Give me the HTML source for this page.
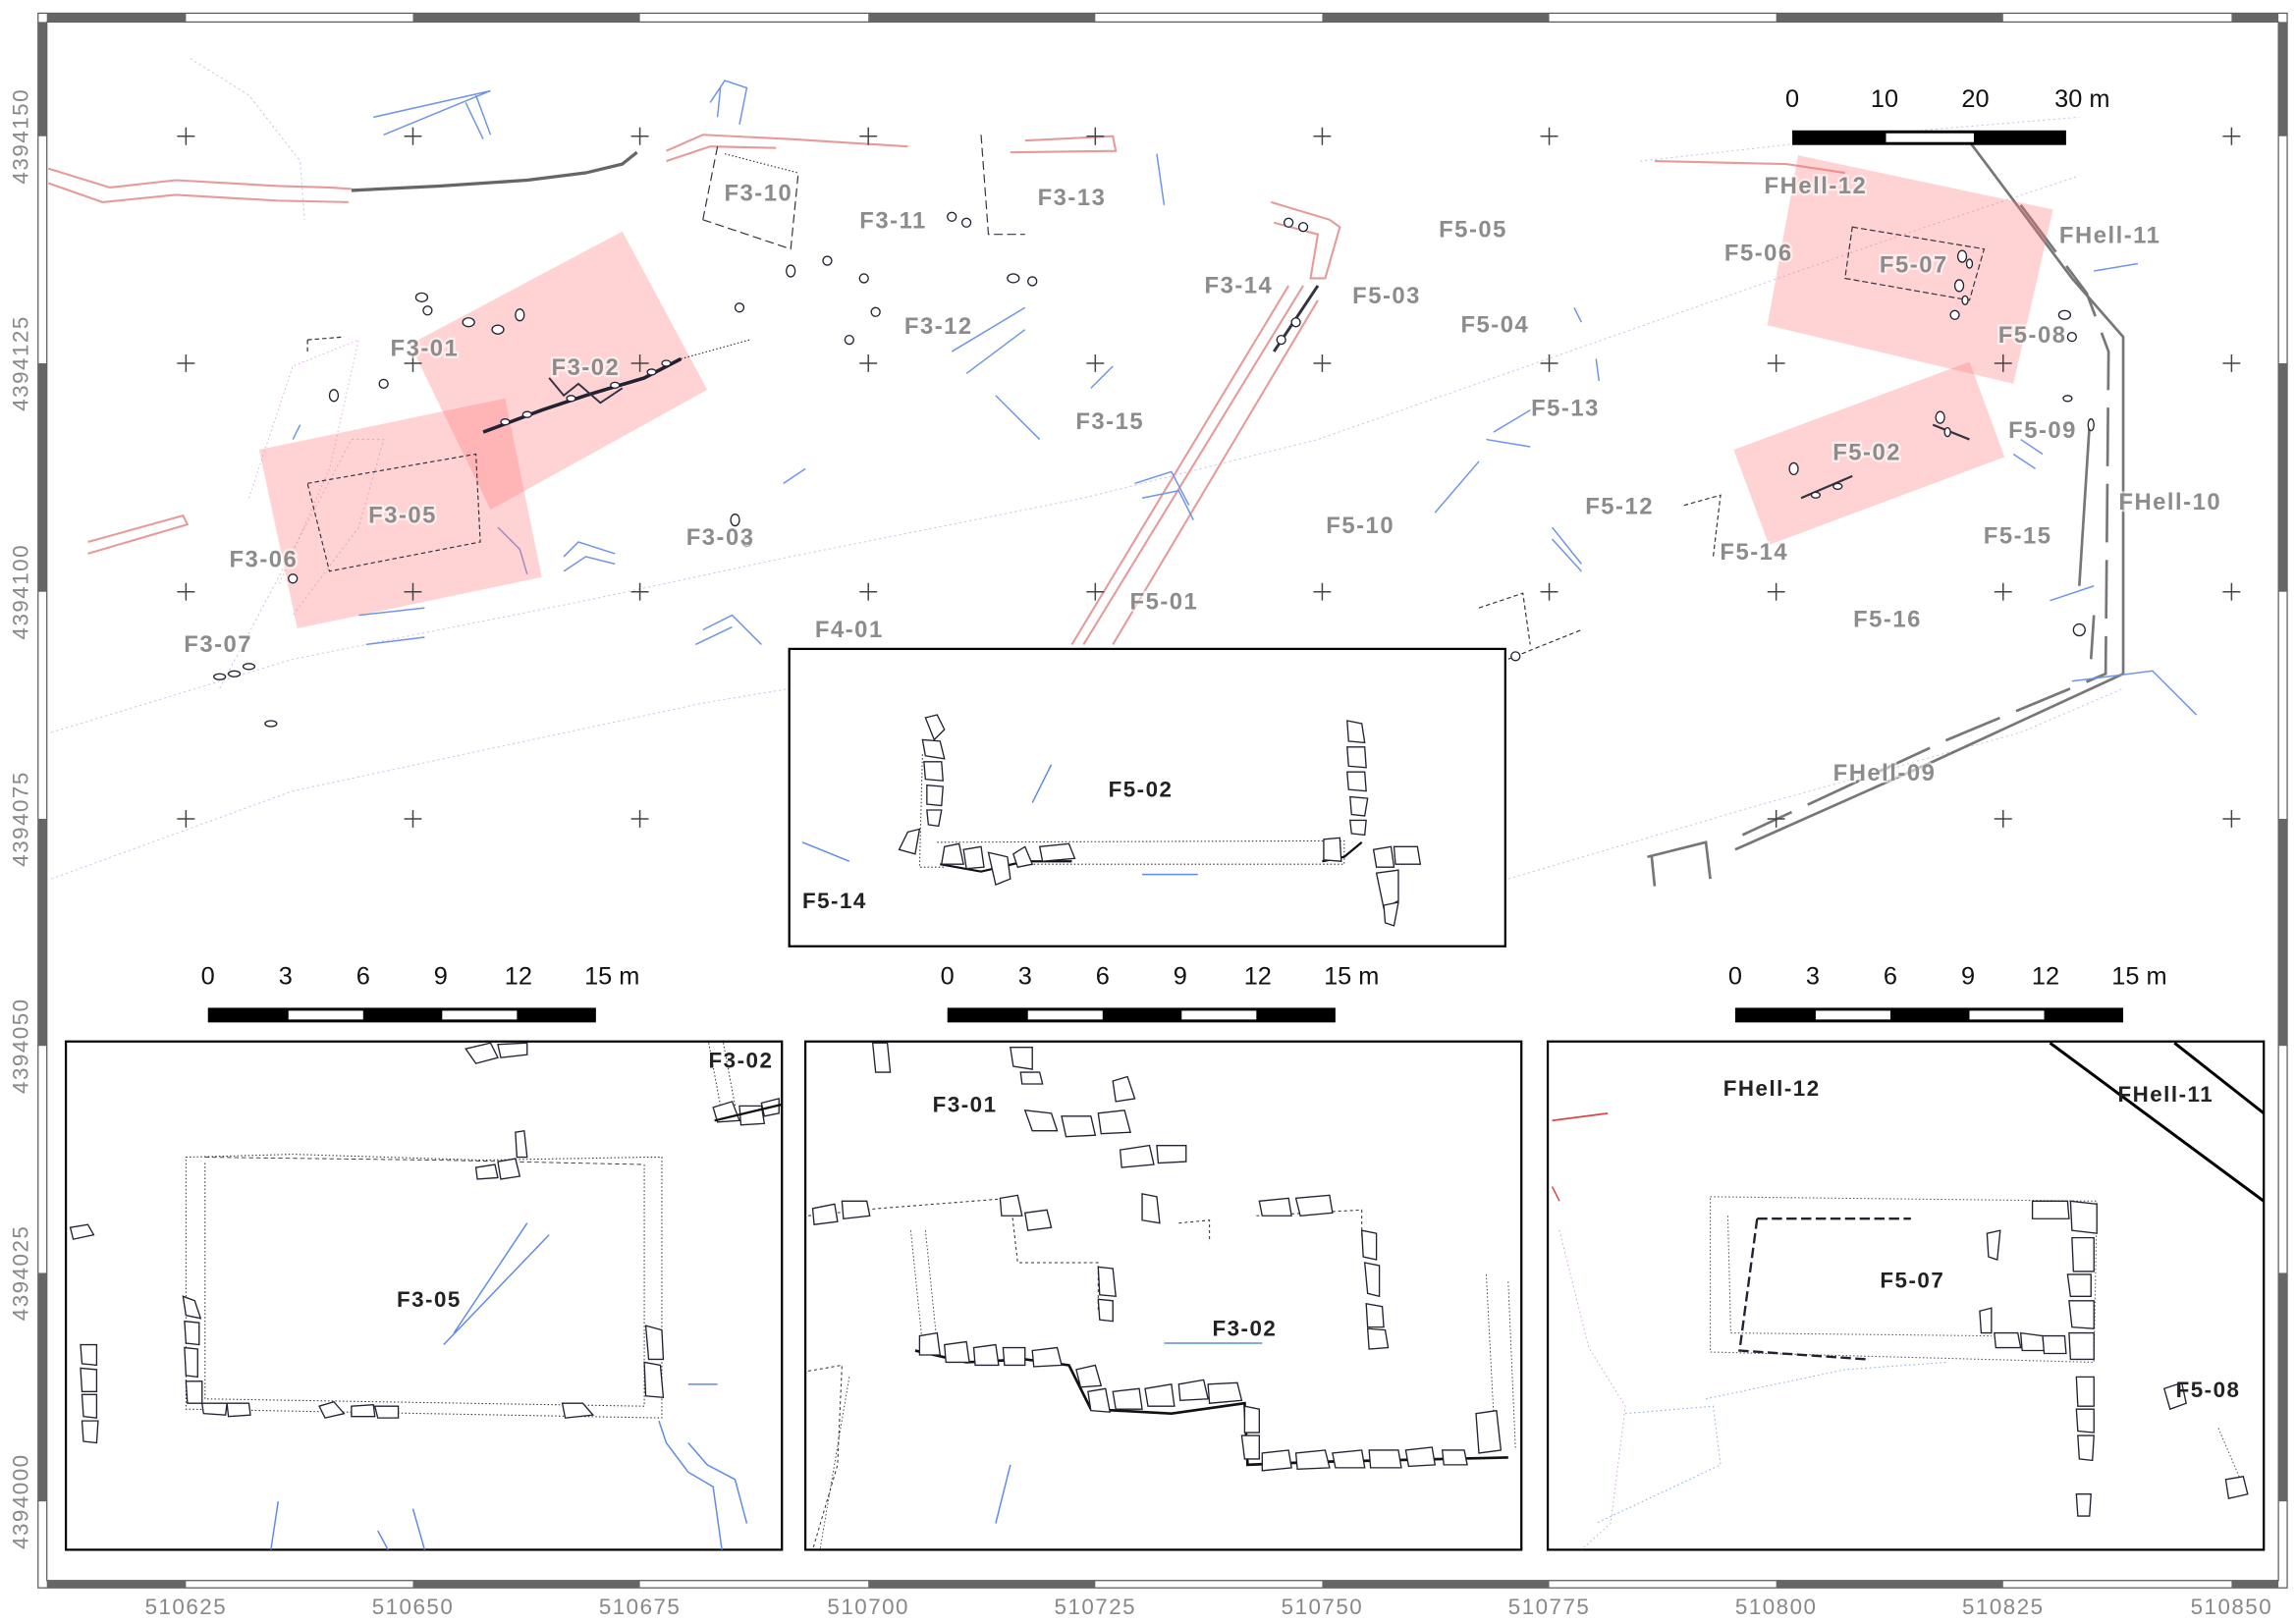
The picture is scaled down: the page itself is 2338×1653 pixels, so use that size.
<!DOCTYPE html>
<html><head><meta charset="utf-8"><style>
html,body{margin:0;padding:0;background:#fff;}
svg{display:block;}
.lab{font-family:"Liberation Sans",sans-serif;font-weight:bold;font-size:16px;fill:#8c8c8c;letter-spacing:1px;paint-order:stroke;stroke:#fff;stroke-opacity:0.6;stroke-width:3px;}
.ilab{font-family:"Liberation Sans",sans-serif;font-weight:bold;font-size:15px;fill:#222;letter-spacing:1px;}
.ax{font-family:"Liberation Sans",sans-serif;font-size:15px;fill:#888;letter-spacing:1px;}
.sc{font-family:"Liberation Sans",sans-serif;font-size:17px;fill:#111;}
.st{fill:#fff;stroke:#223;stroke-width:0.9;}
</style></head><body>
<svg width="2338" height="1653" viewBox="0 0 1568 1108" preserveAspectRatio="none" xmlns="http://www.w3.org/2000/svg">
<rect width="1568" height="1108" fill="#fff"/>
<g stroke="#555" stroke-width="0.8">
<rect x="26" y="9" width="1536" height="1075" fill="none"/>
<rect x="32" y="15" width="1524" height="1064" fill="none"/>
</g>
<g fill="#666">
<rect x="32" y="9" width="95" height="6"/><rect x="282" y="9" width="155" height="6"/><rect x="593" y="9" width="155" height="6"/><rect x="903" y="9" width="155" height="6"/><rect x="1213" y="9" width="155" height="6"/><rect x="1524" y="9" width="32" height="6"/>
<rect x="32" y="1079" width="95" height="5"/><rect x="282" y="1079" width="155" height="5"/><rect x="593" y="1079" width="155" height="5"/><rect x="903" y="1079" width="155" height="5"/><rect x="1213" y="1079" width="155" height="5"/><rect x="1524" y="1079" width="32" height="5"/>
<rect x="26" y="15" width="6" height="78"/><rect x="26" y="248" width="6" height="156"/><rect x="26" y="559" width="6" height="155"/><rect x="26" y="869" width="6" height="156"/>
<rect x="1556" y="15" width="6" height="78"/><rect x="1556" y="248" width="6" height="156"/><rect x="1556" y="559" width="6" height="155"/><rect x="1556" y="869" width="6" height="156"/>
</g>
<g class="ax" text-anchor="middle">
<text x="127" y="1102">510625</text><text x="282" y="1102">510650</text><text x="437" y="1102">510675</text><text x="593" y="1102">510700</text><text x="748" y="1102">510725</text><text x="903" y="1102">510750</text><text x="1058" y="1102">510775</text><text x="1213" y="1102">510800</text><text x="1368" y="1102">510825</text><text x="1524" y="1102">510850</text>
<text transform="translate(19,93) rotate(-90)">4394150</text>
<text transform="translate(19,248) rotate(-90)">4394125</text>
<text transform="translate(19,404) rotate(-90)">4394100</text>
<text transform="translate(19,559) rotate(-90)">4394075</text>
<text transform="translate(19,714) rotate(-90)">4394050</text>
<text transform="translate(19,869) rotate(-90)">4394025</text>
<text transform="translate(19,1025) rotate(-90)">4394000</text>
</g>
<g>
<g fill="none" stroke="#c8c8ee" stroke-width="0.7" stroke-dasharray="1.5,2">
<path d="M130,40 L170,65 L205,110 L208,150"/><path d="M35,500 L200,450 L400,410 L540,380 L740,340 L900,300 L1100,230 L1300,160 L1420,120"/>
<path d="M150,470 L240,300 L262,300 L245,360 L200,420"/><path d="M35,600 L200,540 L480,480 L540,470"/>
<path d="M1030,600 L1200,550 L1380,500 L1450,470"/><path d="M1120,110 L1300,90 L1420,80"/>
</g>
<g fill="none" stroke="#e0a0e0" stroke-width="0.6" stroke-dasharray="1,2">
<path d="M170,340 L200,250 L245,232 L225,320 L190,400"/>
</g>
<g fill="none" stroke="#e89a9a" stroke-width="1.4">
<path d="M33,115 L75,128 L120,123 L190,127 L225,128 L240,129"/><path d="M33,125 L70,138 L120,133 L190,137 L238,138"/>
<path d="M455,103 L480,92 L540,95 L620,100"/><path d="M455,110 L485,100 L530,101"/>
<path d="M700,96 L760,93 L762,103 L690,104"/>
<path d="M868,138 L908,150 L915,155 L905,190 L895,190 L900,160 L870,152"/>
<path d="M890,195 L740,440"/><path d="M880,195 L732,440"/><path d="M760,440 L900,205"/>
<path d="M60,370 L125,352 L128,358 L60,378"/>
<path d="M1130,110 L1220,112 L1260,118"/>
</g>
<path d="M240,130 L300,127 L360,123 L400,118 L425,112 L435,104" fill="none" stroke="#666" stroke-width="2.2"/>
<g fill="none" stroke="#777" stroke-width="1.8">
<path d="M1340,90 L1415,190 L1450,230 L1450,460 L1320,520 L1185,580"/>
<path d="M1380,140 L1425,200 L1440,240 L1438,460 L1330,505 L1190,570" stroke-dasharray="40,12"/>
<path d="M1427,290 L1420,400 M1430,420 L1428,450"/>
<path d="M1125,585 L1165,575 L1168,600 M1128,585 L1130,605"/>
</g>
<g fill="none" stroke="#6f95e8" stroke-width="1">
<path d="M255,80 L335,62 M262,92 L335,62 M318,70 L330,95 M325,65 L335,92"/>
<path d="M485,70 L495,55 L510,60 L505,85 M490,80 L492,60"/>
<path d="M790,105 L795,140"/><path d="M650,240 L700,210 M660,255 L700,225"/>
<path d="M760,250 L745,265 M680,270 L700,290 M690,280 L710,300"/>
<path d="M775,330 L800,322 L812,345 M780,340 L805,335 L815,355"/>
<path d="M980,350 L1010,315"/><path d="M1020,295 L1045,280 M1015,300 L1045,305"/>
<path d="M1090,245 L1092,260 M1075,210 L1080,220"/>
<path d="M1060,360 L1080,385 M1060,368 L1080,390"/>
<path d="M385,380 L395,370 L420,378 M385,390 L400,380 L420,385"/>
<path d="M340,360 L355,375 L360,392"/>
<path d="M250,440 L290,435 M245,420 L290,415"/>
<path d="M480,430 L500,420 L520,440 M475,440 L500,428"/>
<path d="M1415,465 L1470,458 L1500,488"/><path d="M1380,300 L1395,310 M1375,310 L1390,320"/>
<path d="M1400,410 L1430,400"/><path d="M1430,185 L1460,180"/>
<path d="M535,330 L550,320"/><path d="M200,300 L205,290"/>
<path d="M820,555 L860,550"/>
</g>
<g fill="#f77" fill-opacity="0.32">
<polygon points="425,158 483,266 335,348 280,235"/>
<polygon points="177,307 345,272 370,394 203,429"/>
<polygon points="1228,106 1402,143 1375,262 1207,222"/>
<polygon points="1184,307 1345,247 1369,312 1208,372"/>
</g>
<g stroke="#444" stroke-width="1">
<path d="M121,93h12M127,87v12 M276,93h12M282,87v12 M431,93h12M437,87v12 M587,93h12M593,87v12 M742,93h12M748,87v12 M897,93h12M903,87v12 M1052,93h12M1058,87v12 M1518,93h12M1524,87v12"/>
<path d="M121,248h12M127,242v12 M276,248h12M282,242v12 M431,248h12M437,242v12 M587,248h12M593,242v12 M742,248h12M748,242v12 M897,248h12M903,242v12 M1052,248h12M1058,242v12 M1207,248h12M1213,242v12 M1362,248h12M1368,242v12 M1518,248h12M1524,242v12"/>
<path d="M121,404h12M127,398v12 M276,404h12M282,398v12 M431,404h12M437,398v12 M587,404h12M593,398v12 M742,404h12M748,398v12 M897,404h12M903,398v12 M1052,404h12M1058,398v12 M1207,404h12M1213,398v12 M1362,404h12M1368,398v12 M1518,404h12M1524,398v12"/>
<path d="M121,559h12M127,553v12 M276,559h12M282,553v12 M431,559h12M437,553v12 M1207,559h12M1213,553v12 M1362,559h12M1368,553v12 M1518,559h12M1524,553v12"/>
</g>
<g fill="none" stroke="#334" stroke-width="0.8">
<path d="M480,150 L490,100 M480,150 L540,170 L545,120" stroke-dasharray="6,3"/>
<path d="M495,105 L545,118" stroke-dasharray="1,1.5"/>
<path d="M330,295 L370,280 L400,270 L440,258 L465,245" stroke="#223" stroke-width="2.4"/>
<path d="M375,258 L385,270 L395,262 L410,275 L425,265" stroke-width="1.3"/>
<path d="M210,330 L325,310 L328,370 L225,390 Z" stroke-dasharray="3,2"/>
<path d="M465,245 L512,232" stroke-dasharray="1,1.5"/>
<path d="M1265,155 L1355,170 L1345,205 L1260,190 Z" stroke-dasharray="4,2"/>
<path d="M1320,290 L1345,300 M1230,340 L1265,325" stroke-width="1.5"/>
<path d="M1150,345 L1175,338 L1170,380 M1010,415 L1040,405 L1045,440 M1030,450 L1080,430" stroke-dasharray="3,2"/>
<path d="M670,92 L675,160 L700,160" stroke-dasharray="6,3"/>
<path d="M210,232 L235,230 M210,232 L210,240" stroke-dasharray="3,2"/>
<path d="M870,240 L900,195" stroke-width="2"/>
</g>
<g class="st" stroke-width="0.6">
<ellipse cx="288" cy="203" rx="4" ry="3"/><ellipse cx="292" cy="212" rx="3" ry="3"/><ellipse cx="320" cy="220" rx="4" ry="3"/><ellipse cx="340" cy="225" rx="4" ry="3"/><ellipse cx="355" cy="215" rx="3" ry="4"/><ellipse cx="228" cy="270" rx="3" ry="4"/><ellipse cx="262" cy="262" rx="3" ry="3"/><ellipse cx="200" cy="395" rx="3" ry="3"/>
<ellipse cx="345" cy="288" rx="3" ry="2"/><ellipse cx="360" cy="283" rx="3" ry="2"/><ellipse cx="390" cy="272" rx="3" ry="2"/><ellipse cx="420" cy="263" rx="3" ry="2"/><ellipse cx="445" cy="254" rx="3" ry="2"/><ellipse cx="455" cy="248" rx="3" ry="2"/>
<ellipse cx="590" cy="190" rx="3" ry="3"/><ellipse cx="598" cy="213" rx="3" ry="3"/><ellipse cx="580" cy="232" rx="3" ry="3"/><ellipse cx="692" cy="190" rx="4" ry="3"/><ellipse cx="705" cy="192" rx="3" ry="3"/><ellipse cx="650" cy="148" rx="3" ry="3"/><ellipse cx="660" cy="152" rx="3" ry="3"/>
<ellipse cx="540" cy="185" rx="3" ry="4"/><ellipse cx="565" cy="178" rx="3" ry="3"/><ellipse cx="505" cy="210" rx="3" ry="3"/><ellipse cx="502" cy="355" rx="3" ry="4"/><ellipse cx="510" cy="370" rx="3" ry="3"/>
<ellipse cx="880" cy="152" rx="3" ry="3"/><ellipse cx="890" cy="155" rx="3" ry="3"/><ellipse cx="885" cy="220" rx="3" ry="3"/><ellipse cx="875" cy="232" rx="3" ry="3"/>
<ellipse cx="1340" cy="175" rx="3" ry="4"/><ellipse cx="1338" cy="195" rx="3" ry="4"/><ellipse cx="1335" cy="215" rx="3" ry="3"/><ellipse cx="1410" cy="215" rx="4" ry="3"/><ellipse cx="1415" cy="230" rx="3" ry="3"/><ellipse cx="1325" cy="285" rx="3" ry="4"/><ellipse cx="1225" cy="320" rx="3" ry="4"/><ellipse cx="1428" cy="290" rx="2" ry="4"/><ellipse cx="1412" cy="272" rx="3" ry="2"/>
<ellipse cx="1345" cy="180" rx="2" ry="3"/><ellipse cx="1342" cy="205" rx="2" ry="3"/><ellipse cx="1240" cy="338" rx="3" ry="2"/><ellipse cx="1255" cy="332" rx="3" ry="2"/><ellipse cx="1330" cy="295" rx="2" ry="3"/>
<ellipse cx="150" cy="462" rx="4" ry="2"/><ellipse cx="160" cy="460" rx="4" ry="2"/><ellipse cx="170" cy="455" rx="4" ry="2"/><ellipse cx="185" cy="494" rx="4" ry="2"/>
<ellipse cx="1420" cy="430" rx="4" ry="4"/><ellipse cx="1035" cy="448" rx="3" ry="3"/>
</g>
<g class="lab" text-anchor="middle">
<text x="518" y="137">F3-10</text><text x="610" y="156">F3-11</text><text x="732" y="140">F3-13</text><text x="846" y="200">F3-14</text><text x="947" y="207">F5-03</text><text x="1006" y="162">F5-05</text><text x="1021" y="227">F5-04</text><text x="641" y="228">F3-12</text><text x="290" y="243">F3-01</text><text x="400" y="256">F3-02</text><text x="758" y="293">F3-15</text><text x="1069" y="284">F5-13</text><text x="275" y="357">F3-05</text><text x="180" y="387">F3-06</text><text x="492" y="372">F3-03</text><text x="929" y="364">F5-10</text><text x="1106" y="351">F5-12</text><text x="1198" y="382">F5-14</text><text x="1378" y="371">F5-15</text><text x="1289" y="428">F5-16</text><text x="795" y="416">F5-01</text><text x="580" y="435">F4-01</text><text x="149" y="445">F3-07</text><text x="1240" y="132">FHell-12</text><text x="1441" y="166">FHell-11</text><text x="1201" y="178">F5-06</text><text x="1307" y="186">F5-07</text><text x="1388" y="234">F5-08</text><text x="1395" y="299">F5-09</text><text x="1275" y="314">F5-02</text><text x="1482" y="348">FHell-10</text><text x="1287" y="533">FHell-09</text>
</g>
<rect x="1028" y="607" width="440" height="6" fill="#fff"/>
</g>
<rect x="1224" y="89" width="187" height="10" fill="#000"/><rect x="1288" y="91" width="60" height="6" fill="#fff"/>
<g class="sc" text-anchor="middle"><text x="1224" y="73">0</text><text x="1287" y="73">10</text><text x="1349" y="73">20</text><text x="1422" y="73">30 m</text></g>
<g>
<rect x="142" y="688" width="265" height="10" fill="#000"/><rect x="197" y="690" width="51" height="6" fill="#fff"/><rect x="302" y="690" width="51" height="6" fill="#fff"/>
<rect x="647" y="688" width="265" height="10" fill="#000"/><rect x="702" y="690" width="51" height="6" fill="#fff"/><rect x="807" y="690" width="51" height="6" fill="#fff"/>
<rect x="1185" y="688" width="265" height="10" fill="#000"/><rect x="1240" y="690" width="51" height="6" fill="#fff"/><rect x="1345" y="690" width="51" height="6" fill="#fff"/>
</g>
<g class="sc" text-anchor="middle">
<text x="142" y="672">0</text><text x="195" y="672">3</text><text x="248" y="672">6</text><text x="301" y="672">9</text><text x="354" y="672">12</text><text x="418" y="672">15 m</text>
<text x="647" y="672">0</text><text x="700" y="672">3</text><text x="753" y="672">6</text><text x="806" y="672">9</text><text x="859" y="672">12</text><text x="923" y="672">15 m</text>
<text x="1185" y="672">0</text><text x="1238" y="672">3</text><text x="1291" y="672">6</text><text x="1344" y="672">9</text><text x="1397" y="672">12</text><text x="1461" y="672">15 m</text>
</g>
<rect x="539" y="443" width="489" height="203" fill="#fff" stroke="#000" stroke-width="1.5"/>
<g fill="none" stroke="#333" stroke-width="0.7" stroke-dasharray="1,1.5">
<path d="M640,575 L918,574 L918,590 L700,590"/><path d="M630,515 L628,592 L645,592"/>
</g>
<path d="M642,590 L670,595 L700,588 L732,588 M903,588 L918,585 L930,575" fill="none" stroke="#111" stroke-width="1.5"/>
<path d="M705,548 L718,522 M548,575 L580,588 M780,597 L818,597" stroke="#5f8be6" fill="none"/>
<g class="st">
<polygon points="632,490 640,488 645,498 638,505"/><polygon points="630,505 642,506 645,518 632,516"/><polygon points="631,520 643,520 644,533 632,532"/><polygon points="633,536 644,537 643,550 633,549"/><polygon points="633,553 643,553 641,564 634,563"/>
<polygon points="620,568 628,566 625,583 614,580"/><polygon points="645,578 655,576 658,590 643,590"/><polygon points="658,580 670,578 672,592 660,593"/><polygon points="675,582 688,585 690,600 680,604"/><polygon points="692,583 700,578 705,590 695,592"/><polygon points="710,578 730,576 734,586 712,588"/>
<polygon points="920,492 930,494 932,507 921,506"/><polygon points="920,510 932,510 933,524 921,523"/><polygon points="920,527 932,527 933,540 921,539"/><polygon points="922,544 934,545 932,557 923,556"/><polygon points="922,560 933,560 932,570 923,569"/><polygon points="904,573 915,572 916,588 904,587"/>
<polygon points="938,580 950,578 952,592 940,592"/><polygon points="952,578 968,578 970,590 953,590"/><polygon points="940,596 955,594 955,615 945,620"/><polygon points="945,618 955,616 952,632 946,630"/>
</g>
<text class="ilab" x="779" y="544" text-anchor="middle">F5-02</text>
<text class="ilab" x="570" y="620" text-anchor="middle">F5-14</text>
<rect x="45" y="711" width="489" height="347" fill="#fff" stroke="#000" stroke-width="1.5"/>
<g fill="none" stroke="#333" stroke-width="0.7" stroke-dasharray="1,1.5">
<path d="M127,790 L200,788 L330,792 L440,790 L452,790 L452,968 L127,962 Z"/><path d="M140,794 L140,955 L440,960 L440,795"/>
<path d="M484,712 L492,755 M494,712 L502,755"/>
</g>
<path d="M140,790 L300,792 L440,795" stroke="#333" stroke-width="0.6" stroke-dasharray="3,2" fill="none"/>
<g fill="none" stroke="#5f8be6">
<path d="M310,910 L360,835 M303,918 L375,843"/><path d="M450,970 L455,985 L470,1005 L487,1015 L493,1058 M470,985 L483,1000 L502,1010 L510,1040"/>
<path d="M185,1058 L190,1025 M265,1058 L258,1045 M290,1058 L282,1030"/><path d="M470,945 L490,945"/>
</g>
<g class="st">
<polygon points="125,885 133,888 137,900 127,898"/><polygon points="126,902 136,903 136,918 127,917"/><polygon points="126,920 135,921 135,940 127,939"/><polygon points="127,943 138,943 138,958 128,958"/><polygon points="138,958 155,958 154,966 139,965"/><polygon points="155,958 170,958 171,966 156,967"/>
<polygon points="218,960 228,957 235,965 222,968"/><polygon points="240,960 255,959 256,967 240,967"/><polygon points="256,960 272,960 272,968 258,968"/><polygon points="384,958 398,958 405,966 386,968"/>
<polygon points="441,905 452,908 453,928 443,928"/><polygon points="440,930 451,932 453,954 441,953"/>
<polygon points="325,797 338,795 340,804 326,805"/><polygon points="340,793 352,791 355,803 342,805"/><polygon points="352,773 358,772 360,790 353,790"/>
<polygon points="55,918 66,918 66,932 56,931"/><polygon points="55,934 66,935 66,950 56,950"/><polygon points="56,952 66,952 66,968 57,967"/><polygon points="56,970 67,970 66,985 57,984"/><polygon points="48,838 60,836 64,843 50,846"/>
<polygon points="487,756 500,752 505,765 490,766"/><polygon points="505,755 520,755 522,767 506,768"/><polygon points="520,753 532,750 532,760 522,762"/>
<polygon points="318,716 335,712 340,722 325,726"/><polygon points="340,713 360,712 360,720 342,722"/>
</g>
<path d="M488,765 L534,754" stroke="#111" stroke-width="1.5"/>
<text class="ilab" x="293" y="892" text-anchor="middle">F3-05</text>
<text class="ilab" x="506" y="729" text-anchor="middle">F3-02</text>
<rect x="550" y="711" width="489" height="347" fill="#fff" stroke="#000" stroke-width="1.5"/>
<g fill="none" stroke="#333" stroke-width="0.7" stroke-dasharray="2,2">
<path d="M552,830 L600,825 L690,818 L695,862 L750,862 L750,895 M805,835 L826,833 L826,848 M858,830 L930,826 L930,845"/>
<path d="M552,936 L575,932 L572,1000 L555,1058"/>
</g>
<g fill="none" stroke="#333" stroke-width="0.6" stroke-dasharray="1,1.5">
<path d="M622,840 L630,918 M632,840 L640,918"/><path d="M1015,870 L1020,965 M1030,875 L1035,990"/><path d="M580,940 L560,1058"/>
</g>
<path d="M625,922 L660,930 L700,928 L730,932 L745,962 L800,965 L850,958 L852,1000 L900,998 L1030,995" fill="none" stroke="#111" stroke-width="1.8"/>
<path d="M795,917 L862,917 M680,1040 L690,1000" stroke="#5f8be6" fill="none"/>
<g class="st">
<polygon points="628,912 640,910 642,925 628,925"/><polygon points="645,918 660,916 662,930 646,930"/><polygon points="665,920 680,918 682,932 666,932"/><polygon points="685,920 700,920 700,932 686,932"/><polygon points="705,922 722,920 725,932 706,933"/>
<polygon points="735,935 748,932 752,946 738,947"/><polygon points="743,950 755,948 758,964 745,963"/><polygon points="760,950 778,948 780,962 762,962"/><polygon points="782,948 800,945 802,960 784,960"/><polygon points="805,945 822,942 825,955 806,956"/><polygon points="825,945 845,944 848,956 826,958"/>
<polygon points="850,960 860,962 860,978 850,978"/><polygon points="848,980 860,980 860,996 850,996"/><polygon points="862,992 880,990 882,1002 862,1004"/><polygon points="885,992 905,990 908,1002 886,1003"/><polygon points="910,992 930,990 932,1002 912,1002"/><polygon points="935,990 955,990 957,1002 936,1002"/><polygon points="960,990 978,988 980,1000 962,1001"/><polygon points="985,990 1000,990 1002,1000 986,1000"/><polygon points="1008,965 1022,963 1025,990 1010,992"/>
<polygon points="555,825 570,822 572,834 556,836"/><polygon points="575,820 592,820 594,830 576,832"/><polygon points="683,818 695,816 698,830 684,830"/><polygon points="700,828 715,826 718,838 702,840"/><polygon points="780,815 790,817 792,835 780,833"/><polygon points="860,820 880,818 882,830 862,830"/><polygon points="885,818 908,816 910,828 888,830"/>
<polygon points="700,758 718,760 722,772 705,772"/><polygon points="725,762 745,762 748,775 728,776"/><polygon points="750,760 768,758 772,773 752,774"/><polygon points="760,738 770,735 775,750 762,752"/><polygon points="765,785 785,782 788,795 766,797"/><polygon points="790,782 810,782 810,793 791,794"/>
<polygon points="690,715 705,715 705,730 692,728"/><polygon points="697,732 710,732 712,740 698,740"/><polygon points="596,712 606,712 608,732 598,732"/>
<polygon points="930,840 940,842 940,860 931,858"/><polygon points="932,862 942,864 942,885 934,883"/><polygon points="933,890 944,892 945,906 934,906"/><polygon points="934,907 946,908 948,920 935,921"/>
<polygon points="750,865 760,866 762,885 751,884"/><polygon points="750,887 760,888 760,902 751,901"/>
</g>
<text class="ilab" x="659" y="759" text-anchor="middle">F3-01</text>
<text class="ilab" x="850" y="912" text-anchor="middle">F3-02</text>
<rect x="1057" y="711" width="489" height="347" fill="#fff" stroke="#000" stroke-width="1.5"/>
<path d="M1485,712 L1546,760" stroke="#000" stroke-width="2"/>
<path d="M1400,712 L1546,820" stroke="#000" stroke-width="2"/>
<path d="M1060,765 L1098,760" stroke="#d44" stroke-width="1.2"/>
<path d="M1060,810 L1065,820" stroke="#d44" stroke-width="1"/>
<g fill="none" stroke="#d8a0e0" stroke-width="0.7" stroke-dasharray="1,2"><path d="M1065,840 L1085,920 L1110,960 L1100,1040 L1080,1058"/></g>
<g fill="none" stroke="#8aa8ee" stroke-width="0.7" stroke-dasharray="1,2"><path d="M1110,965 L1170,960 L1175,1000 L1090,1040"/><path d="M1165,955 L1260,935 L1330,930"/></g>
<g fill="none" stroke="#555" stroke-width="0.7" stroke-dasharray="1,1.5">
<path d="M1168,817 L1432,820 L1430,930 L1168,923 Z"/><path d="M1180,830 L1182,910 L1360,912"/><path d="M1515,975 L1530,1010"/>
</g>
<path d="M1200,832 L1305,832 M1200,832 L1188,922 L1275,928" fill="none" stroke="#223" stroke-width="1.6" stroke-dasharray="7,3"/>
<g class="st">
<polygon points="1388,820 1412,820 1413,832 1388,832"/><polygon points="1414,820 1432,822 1432,842 1415,840"/><polygon points="1415,845 1430,845 1430,868 1416,868"/><polygon points="1412,870 1428,870 1428,885 1414,885"/><polygon points="1413,888 1430,888 1430,907 1415,906"/><polygon points="1413,910 1430,910 1430,928 1414,928"/>
<polygon points="1362,910 1378,910 1380,920 1363,920"/><polygon points="1380,910 1395,912 1396,922 1381,922"/><polygon points="1395,912 1410,912 1411,924 1396,924"/>
<polygon points="1357,842 1366,840 1364,860 1358,858"/><polygon points="1352,895 1360,893 1360,910 1353,910"/>
<polygon points="1418,940 1430,940 1430,960 1419,960"/><polygon points="1418,962 1430,962 1430,978 1419,977"/><polygon points="1419,980 1430,980 1429,997 1420,996"/><polygon points="1418,1020 1428,1020 1427,1035 1419,1035"/>
<polygon points="1478,948 1490,944 1493,958 1482,962"/><polygon points="1520,1010 1532,1008 1535,1020 1522,1023"/>
</g>
<text class="ilab" x="1210" y="748" text-anchor="middle">FHell-12</text>
<text class="ilab" x="1479" y="752" text-anchor="middle">FHell-11</text>
<text class="ilab" x="1306" y="879" text-anchor="middle">F5-07</text>
<text class="ilab" x="1508" y="954" text-anchor="middle">F5-08</text>
</svg>
</body></html>
